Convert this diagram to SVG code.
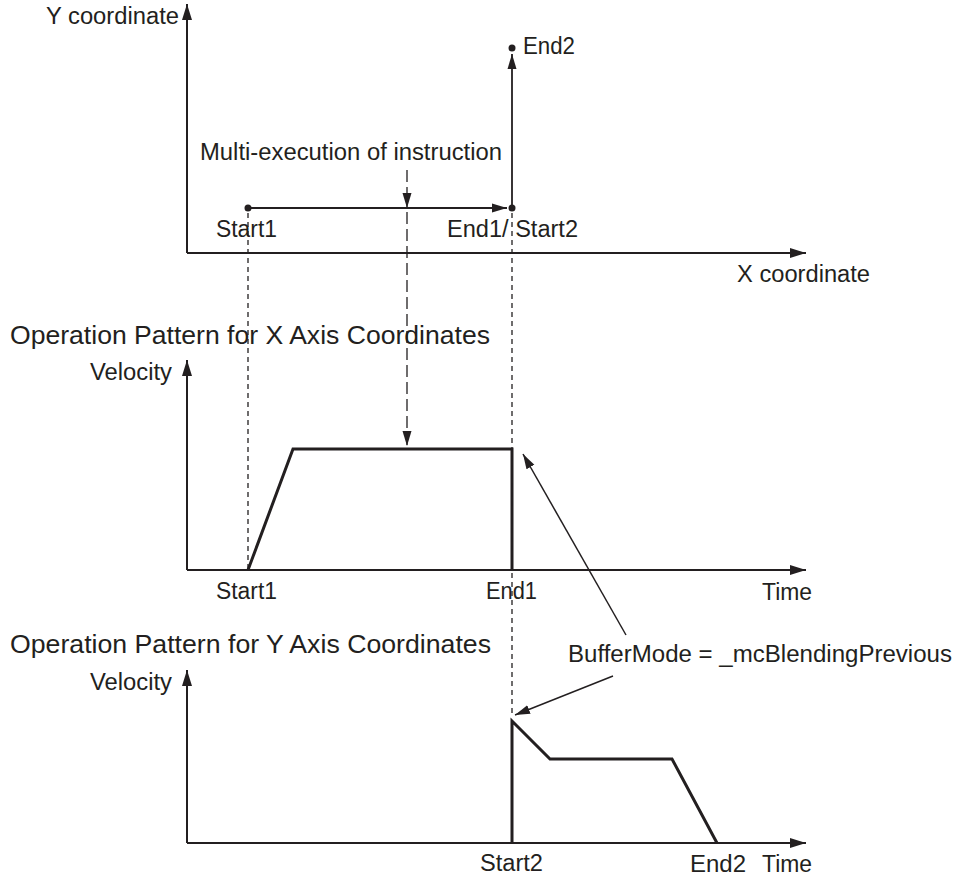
<svg xmlns="http://www.w3.org/2000/svg" width="958" height="880" viewBox="0 0 958 880">
<style>
text{font-family:"Liberation Sans",Arial,sans-serif;font-size:23.5px;fill:#231f20}
text.h{font-size:26.5px}
.ax{stroke:#231f20;stroke-width:2;fill:none}
.pr{stroke:#231f20;stroke-width:3;fill:none;stroke-linejoin:miter}
.ln{stroke:#231f20;stroke-width:1.8;fill:none}
.cl{stroke:#231f20;stroke-width:1.5;fill:none}
.ds{stroke:#231f20;stroke-width:1.3;fill:none;stroke-dasharray:5 4}
.ld{stroke:#231f20;stroke-width:1.3;fill:none;stroke-dasharray:12 5}
.dot{fill:#231f20}
</style>
<defs>
<marker id="ah" markerUnits="userSpaceOnUse" markerWidth="16" markerHeight="10" refX="16" refY="5" orient="auto">
<path d="M0,0 L16,5 L0,10 z" fill="#231f20"/>
</marker>
<marker id="sh" markerUnits="userSpaceOnUse" markerWidth="15" markerHeight="10" refX="15" refY="5" orient="auto">
<path d="M0,0.5 L15,5 L0,9.5 z" fill="#231f20"/>
</marker>
</defs>

<g id="xy-plot">
<line class="ax" x1="187" y1="253" x2="187" y2="4" marker-end="url(#ah)"/>
<line class="ax" x1="187" y1="253" x2="806" y2="253" marker-end="url(#ah)"/>
<text x="46" y="24" textLength="133" lengthAdjust="spacingAndGlyphs">Y coordinate</text>
<text x="737" y="282" textLength="133" lengthAdjust="spacingAndGlyphs">X coordinate</text>
</g>

<g id="path1">
<line class="ln" x1="248" y1="208" x2="507" y2="208" marker-end="url(#sh)"/>
<circle class="dot" cx="248" cy="208" r="3.5"/>
<text x="216" y="237" textLength="61" lengthAdjust="spacingAndGlyphs">Start1</text>
</g>

<g id="path2">
<line class="ln" x1="512" y1="208" x2="512" y2="54" marker-end="url(#sh)"/>
<circle class="dot" cx="512" cy="208" r="3.5"/>
<circle class="dot" cx="512" cy="48" r="3.5"/>
<text x="523" y="54" textLength="52" lengthAdjust="spacingAndGlyphs">End2</text>
<text x="447" y="237" textLength="131" lengthAdjust="spacingAndGlyphs">End1/ Start2</text>
</g>

<g id="multi-exec">
<text x="200" y="160" textLength="302" lengthAdjust="spacingAndGlyphs">Multi-execution of instruction</text>
</g>

<g id="x-velocity">
<text class="h" x="10" y="344" textLength="480" lengthAdjust="spacingAndGlyphs">Operation Pattern for X Axis Coordinates</text>
<line class="ax" x1="187" y1="570" x2="187" y2="360" marker-end="url(#ah)"/>
<line class="ax" x1="187" y1="570" x2="806" y2="570" marker-end="url(#ah)"/>
<text x="90" y="380" textLength="82" lengthAdjust="spacingAndGlyphs">Velocity</text>
<polyline class="pr" points="248,570 293,449 512,449 512,570"/>
<text x="216" y="599" textLength="61" lengthAdjust="spacingAndGlyphs">Start1</text>
<text x="486" y="599" textLength="51" lengthAdjust="spacingAndGlyphs">End1</text>
<text x="762" y="600" textLength="50" lengthAdjust="spacingAndGlyphs">Time</text>
</g>

<g id="y-velocity">
<text class="h" x="10" y="653" textLength="481" lengthAdjust="spacingAndGlyphs">Operation Pattern for Y Axis Coordinates</text>
<line class="ax" x1="187" y1="843" x2="187" y2="670" marker-end="url(#ah)"/>
<line class="ax" x1="187" y1="843" x2="806" y2="843" marker-end="url(#ah)"/>
<text x="90" y="690" textLength="82" lengthAdjust="spacingAndGlyphs">Velocity</text>
<polyline class="pr" points="512,843 512,721 550,759 672,759 717,843"/>
<text x="480" y="871" textLength="63" lengthAdjust="spacingAndGlyphs">Start2</text>
<text x="690" y="872" textLength="56" lengthAdjust="spacingAndGlyphs">End2</text>
<text x="762" y="872" textLength="50" lengthAdjust="spacingAndGlyphs">Time</text>
</g>

<g id="buffermode">
<text x="568" y="662" textLength="384" lengthAdjust="spacingAndGlyphs">BufferMode = _mcBlendingPrevious</text>
</g>

<g id="connectors">
<line class="ld" x1="407" y1="170" x2="407" y2="208" marker-end="url(#sh)"/>
<line class="ld" x1="407" y1="212" x2="407" y2="446" marker-end="url(#sh)"/>
<line class="ds" x1="248" y1="213" x2="248" y2="570"/>
<line class="ds" x1="512" y1="213" x2="512" y2="716"/>
<line class="cl" x1="626" y1="635" x2="523" y2="454" marker-end="url(#sh)"/>
<line class="cl" x1="613" y1="676" x2="515" y2="715" marker-end="url(#sh)"/>
</g>
</svg>
